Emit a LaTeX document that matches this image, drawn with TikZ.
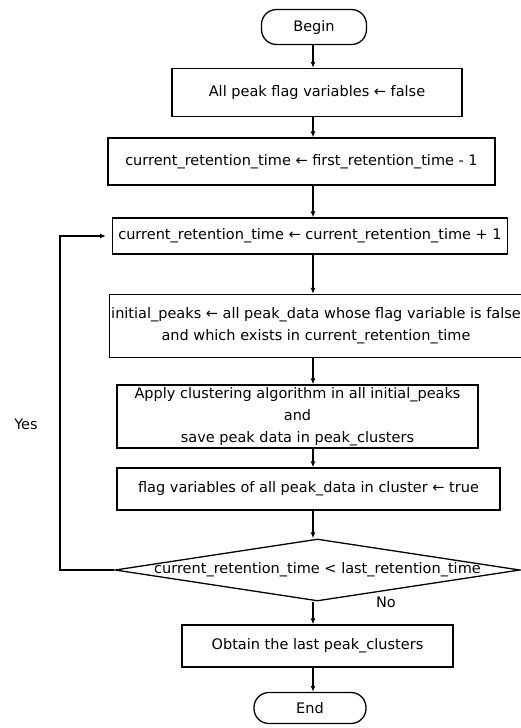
\documentclass[tikz,border=0pt]{standalone}
\usepackage{fontspec}
\setmainfont{DejaVu Sans}
\usetikzlibrary{positioning,arrows.meta,shapes.geometric}

\tikzset{
  stepbox/.style={draw,line width=1.3pt,inner sep=2pt,align=center,
                  font=\fontsize{14.5}{22}\selectfont},
  termbox/.style={stepbox,rounded corners=15pt},
  arr/.style={line width=1.3pt,-{Latex[length=6pt,width=5pt]}}
}

\begin{document}
\begin{tikzpicture}[x=1pt,y=-1pt]
  \useasboundingbox (0,0) rectangle (521,728);
  \coordinate (ax) at (313,0);
  \coordinate (loop) at (60,570);

  \node[termbox,minimum width=105pt,minimum height=35pt] (begin) at (314,27) {Begin};
  \node[stepbox,minimum width=290pt,minimum height=48pt] (b1) at (317,92.5)
    {All peak flag variables ← false};
  \node[stepbox,minimum width=387pt,minimum height=47pt] (b2) at (301.5,161.5)
    {current\_retention\_time ← first\_retention\_time - 1};
  \node[stepbox,minimum width=395pt,minimum height=36pt] (b3) at (310,236)
    {current\_retention\_time ← current\_retention\_time + 1};
  \node[stepbox,minimum width=410pt,minimum height=63pt] (b4) at (316,326)
    {initial\_peaks ← all peak\_data whose flag variable is false\\
     and which exists in current\_retention\_time};
  \node[stepbox,minimum width=361pt,minimum height=63pt] (b5) at (297.5,416.5)
    {Apply clustering algorithm in all initial\_peaks\\and\\
     save peak data in peak\_clusters};
  \node[stepbox,minimum width=383pt,minimum height=42pt] (b6) at (308.5,489)
    {flag variables of all peak\_data in cluster ← true};
  \node[draw,line width=1.3pt,diamond,inner sep=0pt,minimum width=405pt,
        minimum height=62pt] (dia) at (317.5,570) {};
  \node[font=\fontsize{14.5}{17}\selectfont] (diatext) at (dia.center)
    {current\_retention\_time < last\_retention\_time};
  \node[stepbox,minimum width=271pt,minimum height=42pt] (b7) at (317.5,646)
    {Obtain the last peak\_clusters};
  \node[termbox,minimum width=112pt,minimum height=31pt] (end) at (310,708) {End};

  \node[font=\fontsize{14.5}{17}\selectfont] (yes) at (26,424) {Yes};
  \node[font=\fontsize{14.5}{17}\selectfont] (no) at (386,602) {No};

  \draw[arr] (begin.south -| ax) -- (b1.north -| ax);
  \draw[arr] (b1.south -| ax) -- (b2.north -| ax);
  \draw[arr] (b2.south -| ax) -- (b3.north -| ax);
  \draw[arr] (b3.south -| ax) -- (b4.north -| ax);
  \draw[arr] (b4.south -| ax) -- (b5.north -| ax);
  \draw[arr] (b5.south -| ax) -- (b6.north -| ax);
  \draw[arr] (b6.south -| ax) -- (dia.north -| ax);
  \draw[arr] (dia.south -| ax) -- (b7.north -| ax);
  \draw[arr] (b7.south -| ax) -- (end.north -| ax);
  \draw[arr,shorten >=6pt] (dia.west) -- (loop) |- (b3.west);
\end{tikzpicture}
\end{document}
